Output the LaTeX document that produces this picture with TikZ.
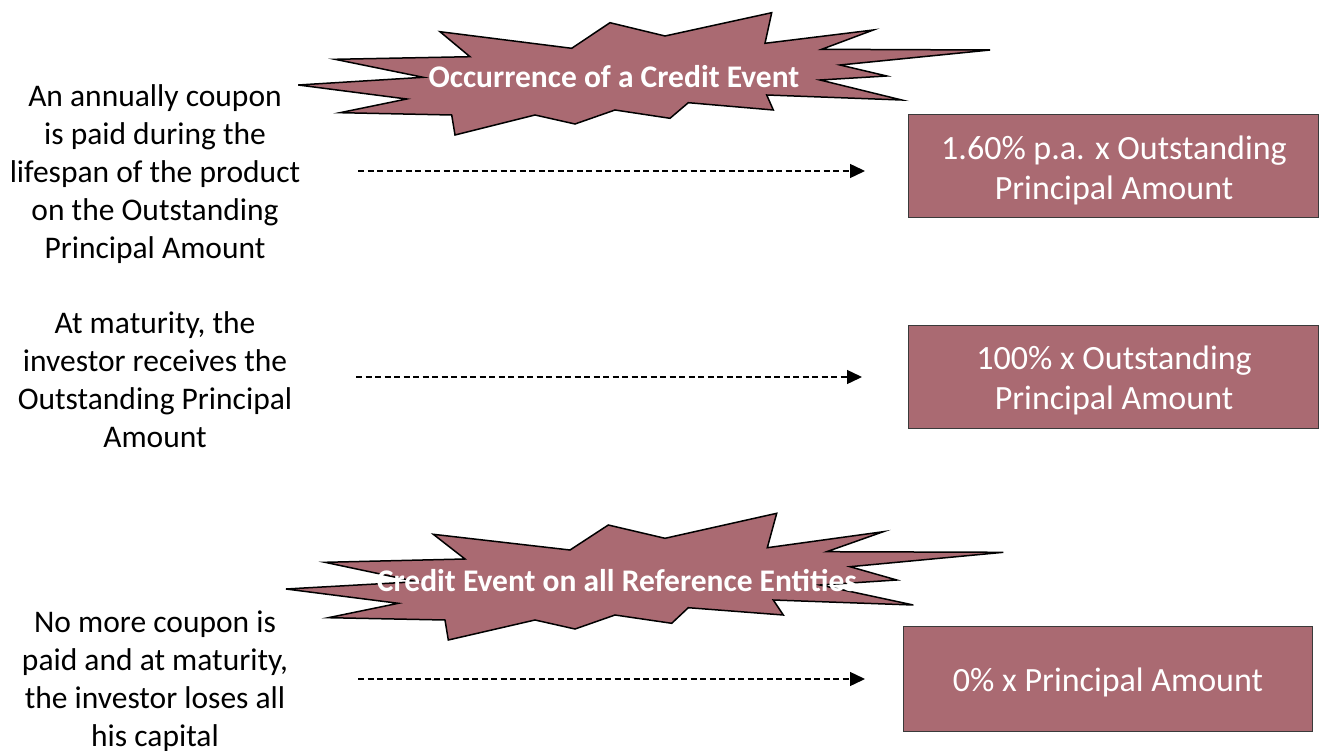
\documentclass[tikz,border=0pt]{standalone}
\usepackage{fontspec}
\setmainfont{Carlito}
\usetikzlibrary{arrows.meta}
\definecolor{burst}{HTML}{AA6A72}
\definecolor{boxedge}{HTML}{3A3A3A}
\tikzset{
  lbl/.style={align=center, font=\fontsize{31.5}{38}\selectfont, inner sep=0pt},
  resbox/.style={draw=boxedge, line width=1pt, fill=burst, inner sep=0pt},
  restext/.style={text=white, align=center, font=\fontsize{34}{40}\selectfont, inner sep=0pt},
  burstpath/.style={draw=black, line width=1.5pt, fill=burst, line join=miter},
  bursttext/.style={text=white, font=\bfseries\fontsize{31.5}{34}\selectfont, inner sep=0pt},
  flow/.style={dash pattern=on 6pt off 3.5pt, line width=1.4pt,
     -{Triangle[length=15pt,width=14pt]}}
}
\begin{document}
\begin{tikzpicture}[x=1pt,y=-1pt]
\useasboundingbox (0,0) rectangle (1319,751);
% left labels
\node[lbl] (t1) at (155,174) {An annually coupon\\is paid during the\\lifespan of the product\\on the Outstanding\\Principal Amount};
\node[lbl] (t2) at (155,380) {At maturity, the\\investor receives the\\Outstanding Principal\\Amount};
\node[lbl] (t3) at (155,681) {No more coupon is\\paid and at maturity,\\the investor loses all\\his capital};
% result boxes
\node[resbox, minimum width=410pt, minimum height=103pt] (b1) at (1113,166.5) {};
\node[restext] (b1t) at (1114,170) {1.60\% p.a. x Outstanding\\Principal Amount};
\node[resbox, minimum width=410pt, minimum height=103pt] (b2) at (1113,376.5) {};
\node[restext] (b2t) at (1114,380) {100\% x Outstanding\\Principal Amount};
\node[resbox, minimum width=409pt, minimum height=105pt] (b3) at (1107.5,678.5) {};
\node[restext] (b3t) at (1108,682) {0\% x Principal Amount};
% bursts
\draw[burstpath] (298.3,85) -- (423.3,77.3) -- (335,59.3) -- (470,56.7) -- (440,31.7) -- (571.7,48.3) -- (610,22.7) -- (665,36) -- (771.7,12.7) -- (765,43.3) -- (873.3,30) -- (821.7,49.3) -- (990,50) -- (840,65) -- (886.7,76) -- (820,80) -- (901.7,100) -- (766.7,95) -- (773.3,110) -- (688.3,102.7) -- (670,118.3) -- (615,110) -- (575,124) -- (535,115) -- (455,135) -- (451.7,115) -- (340,112.7) -- (406.7,99) -- cycle;
\node[bursttext] (e1) at (614,77) {Occurrence of a Credit Event};
\draw[burstpath] (286,589) -- (416.7,581.7) -- (325,562.3) -- (465,559) -- (433.3,534.3) -- (570,550) -- (608.3,525) -- (665,538.3) -- (776.7,513.3) -- (767.3,547.7) -- (883.3,531.7) -- (826.7,551.7) -- (1003.3,552.3) -- (850,566.7) -- (896.7,580) -- (820,585) -- (913.3,605) -- (773.3,600) -- (783.3,615) -- (688.3,607.7) -- (671.7,623.3) -- (615,615) -- (575,629) -- (535,620) -- (448.3,640) -- (445,620) -- (328.3,617.7) -- (398.3,603.3) -- cycle;
\node[bursttext] (e2) at (617,581) {Credit Event on all Reference Entities};
% arrows
\coordinate (s1) at (358,171); \coordinate (f1) at (865,171);
\coordinate (s2) at (356,377); \coordinate (f2) at (862,377);
\coordinate (s3) at (358,679); \coordinate (f3) at (865,679);
\draw[flow] (s1) -- (f1);
\draw[flow] (s2) -- (f2);
\draw[flow] (s3) -- (f3);
\end{tikzpicture}
\end{document}
